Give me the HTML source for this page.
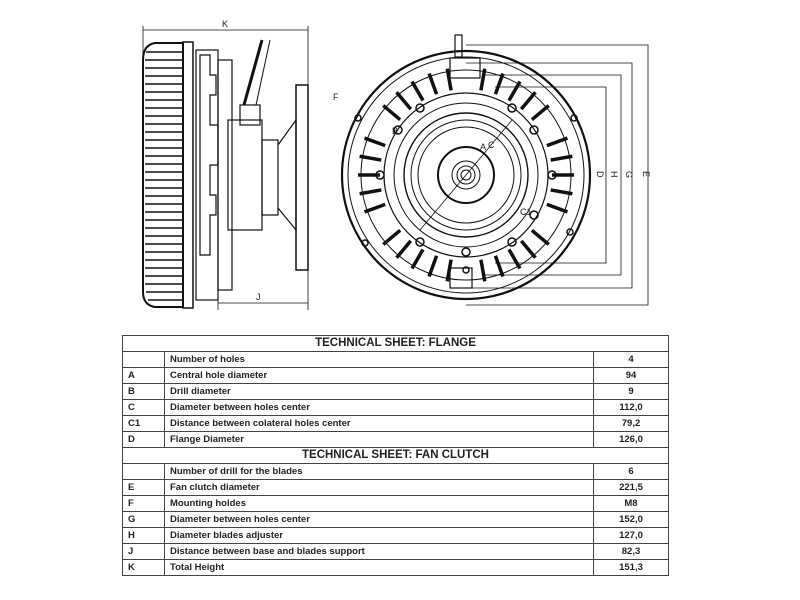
<!DOCTYPE html>
<html><head><meta charset="utf-8"><style>
html,body{margin:0;padding:0;background:#fff;width:800px;height:600px;overflow:hidden}
svg{position:absolute;left:0;top:0}
table{position:absolute;left:122px;top:335px;width:547px;border-collapse:collapse;font-family:"Liberation Sans",sans-serif;font-size:9.5px;font-weight:bold;color:#222}
td{border:1px solid #444;height:15px;padding:0 5px;line-height:15px}
td.h{text-align:center;font-size:11.5px;height:15px}
td.v{text-align:center}
</style></head><body>
<svg width="800" height="330" viewBox="0 0 800 330">
<g stroke="#111" fill="none" stroke-width="1.2">
<line x1="143" y1="30" x2="308" y2="30" stroke-width="0.8"/>
<line x1="143" y1="26" x2="143" y2="60" stroke-width="0.8"/>
<line x1="308" y1="26" x2="308" y2="310" stroke-width="0.8"/>
<line x1="218" y1="303" x2="308" y2="303" stroke-width="0.8"/>
<line x1="218" y1="290" x2="218" y2="310" stroke-width="0.8"/>
<path d="M183,43 L155,43 Q143,45 143,60 L143,292 Q143,305 155,307 L183,307 Z" stroke-width="2"/>
<g stroke-width="1.4">
<line x1="146" y1="52" x2="182" y2="52"/><line x1="145" y1="60" x2="182" y2="60"/><line x1="145" y1="68" x2="182" y2="68"/><line x1="145" y1="76" x2="182" y2="76"/><line x1="145" y1="84" x2="182" y2="84"/><line x1="145" y1="92" x2="182" y2="92"/><line x1="145" y1="100" x2="182" y2="100"/><line x1="145" y1="108" x2="182" y2="108"/><line x1="145" y1="116" x2="182" y2="116"/><line x1="145" y1="124" x2="182" y2="124"/><line x1="145" y1="132" x2="182" y2="132"/><line x1="145" y1="140" x2="182" y2="140"/><line x1="145" y1="148" x2="182" y2="148"/><line x1="145" y1="156" x2="182" y2="156"/><line x1="145" y1="164" x2="182" y2="164"/><line x1="145" y1="172" x2="182" y2="172"/><line x1="145" y1="180" x2="182" y2="180"/><line x1="145" y1="188" x2="182" y2="188"/><line x1="145" y1="196" x2="182" y2="196"/><line x1="145" y1="204" x2="182" y2="204"/><line x1="145" y1="212" x2="182" y2="212"/><line x1="145" y1="220" x2="182" y2="220"/><line x1="145" y1="228" x2="182" y2="228"/><line x1="145" y1="236" x2="182" y2="236"/><line x1="145" y1="244" x2="182" y2="244"/><line x1="145" y1="252" x2="182" y2="252"/><line x1="145" y1="260" x2="182" y2="260"/><line x1="145" y1="268" x2="182" y2="268"/><line x1="145" y1="276" x2="182" y2="276"/><line x1="145" y1="284" x2="182" y2="284"/><line x1="146" y1="292" x2="182" y2="292"/><line x1="148" y1="300" x2="182" y2="300"/>
</g>
<rect x="183" y="42" width="10" height="266" stroke-width="1.5"/>
<rect x="196" y="50" width="22" height="250"/>
<path d="M200,55 h10 v20 h6 v20 h-6 v30 h8 v40 h-8 v30 h6 v20 h-6 v40 h-10 z"/>
<rect x="218" y="60" width="14" height="230"/>
<rect x="228" y="120" width="34" height="110"/>
<rect x="240" y="105" width="20" height="20"/>
<line x1="244" y1="105" x2="262" y2="40" stroke-width="3"/>
<line x1="256" y1="105" x2="270" y2="40" stroke-width="1"/>
<rect x="262" y="140" width="16" height="75"/>
<path d="M278,145 L296,120 L296,230 L278,208"/>
<rect x="296" y="85" width="12" height="185" stroke-width="1.5"/>
<circle cx="466" cy="175" r="124" stroke-width="2.2"/>
<circle cx="466" cy="175" r="118" stroke-width="1"/>
<circle cx="466" cy="175" r="105" stroke-width="1"/>
<circle cx="466" cy="175" r="82" stroke-width="1.2"/>
<circle cx="466" cy="175" r="72" stroke-width="1"/>
<circle cx="466" cy="175" r="62" stroke-width="1.4"/>
<circle cx="466" cy="175" r="55" stroke-width="1"/>
<circle cx="466" cy="175" r="48" stroke-width="1"/>
<circle cx="466" cy="175" r="28" stroke-width="2"/>
<circle cx="466" cy="175" r="14" stroke-width="1"/>
<circle cx="466" cy="175" r="9" stroke-width="1"/>
<circle cx="466" cy="175" r="5" stroke-width="1"/>
<g stroke-width="3.5">
<path d="M466,175 m0,-108 v22" transform="rotate(10 466 175)"/>
<path d="M466,175 m0,-108 v22" transform="rotate(20 466 175)"/>
<path d="M466,175 m0,-108 v22" transform="rotate(30 466 175)"/>
<path d="M466,175 m0,-108 v22" transform="rotate(40 466 175)"/>
<path d="M466,175 m0,-108 v22" transform="rotate(50 466 175)"/>
<path d="M466,175 m0,-108 v22" transform="rotate(70 466 175)"/>
<path d="M466,175 m0,-108 v22" transform="rotate(80 466 175)"/>
<path d="M466,175 m0,-108 v22" transform="rotate(90 466 175)"/>
<path d="M466,175 m0,-108 v22" transform="rotate(100 466 175)"/>
<path d="M466,175 m0,-108 v22" transform="rotate(110 466 175)"/>
<path d="M466,175 m0,-108 v22" transform="rotate(130 466 175)"/>
<path d="M466,175 m0,-108 v22" transform="rotate(140 466 175)"/>
<path d="M466,175 m0,-108 v22" transform="rotate(150 466 175)"/>
<path d="M466,175 m0,-108 v22" transform="rotate(160 466 175)"/>
<path d="M466,175 m0,-108 v22" transform="rotate(170 466 175)"/>
<path d="M466,175 m0,-108 v22" transform="rotate(190 466 175)"/>
<path d="M466,175 m0,-108 v22" transform="rotate(200 466 175)"/>
<path d="M466,175 m0,-108 v22" transform="rotate(210 466 175)"/>
<path d="M466,175 m0,-108 v22" transform="rotate(220 466 175)"/>
<path d="M466,175 m0,-108 v22" transform="rotate(230 466 175)"/>
<path d="M466,175 m0,-108 v22" transform="rotate(250 466 175)"/>
<path d="M466,175 m0,-108 v22" transform="rotate(260 466 175)"/>
<path d="M466,175 m0,-108 v22" transform="rotate(270 466 175)"/>
<path d="M466,175 m0,-108 v22" transform="rotate(280 466 175)"/>
<path d="M466,175 m0,-108 v22" transform="rotate(290 466 175)"/>
<path d="M466,175 m0,-108 v22" transform="rotate(310 466 175)"/>
<path d="M466,175 m0,-108 v22" transform="rotate(320 466 175)"/>
<path d="M466,175 m0,-108 v22" transform="rotate(330 466 175)"/>
<path d="M466,175 m0,-108 v22" transform="rotate(340 466 175)"/>
<path d="M466,175 m0,-108 v22" transform="rotate(350 466 175)"/>
</g>
<g stroke-width="1.5">
<circle cx="420" cy="108" r="4"/><circle cx="512" cy="108" r="4"/><circle cx="380" cy="175" r="4"/><circle cx="552" cy="175" r="4"/>
<circle cx="420" cy="242" r="4"/><circle cx="512" cy="242" r="4"/><circle cx="466" cy="252" r="4"/>
<circle cx="398" cy="130" r="4"/><circle cx="534" cy="130" r="4"/><circle cx="534" cy="215" r="4"/>
<circle cx="358" cy="118" r="3"/><circle cx="574" cy="118" r="3"/><circle cx="365" cy="243" r="3"/><circle cx="570" cy="232" r="3"/><circle cx="466" cy="270" r="3"/>
</g>
<rect x="455" y="35" width="7" height="22"/>
<rect x="450" y="58" width="30" height="20"/>
<rect x="450" y="268" width="22" height="20"/>
<line x1="420" y1="230" x2="512" y2="120" stroke-width="0.8"/>
<g stroke-width="0.8">
<path d="M466,45 H648 V305 H466"/>
<path d="M466,63 H632 V288 H466"/>
<path d="M485,75 H621 V275 H485"/>
<path d="M495,87 H606 V263 H495"/>
</g>
</g>
<g font-family="Liberation Sans,sans-serif" font-size="9" fill="#222">
<text x="222" y="27">K</text><text x="256" y="300">J</text>
<text x="597" y="179" transform="rotate(90 601 175)">D</text>
<text x="611" y="179" transform="rotate(90 615 175)">H</text>
<text x="626" y="179" transform="rotate(90 630 175)">G</text>
<text x="643" y="179" transform="rotate(90 647 175)">E</text>
<text x="480" y="150">A</text><text x="488" y="148">C</text><text x="392" y="134">B</text><text x="520" y="215">C1</text><text x="333" y="100">F</text>
</g>
</svg>
<table>
<tr><td class="h" colspan="3">TECHNICAL SHEET: FLANGE</td></tr>
<tr><td style="width:31px"></td><td>Number of holes</td><td class="v" style="width:64px">4</td></tr>
<tr><td>A</td><td>Central hole diameter</td><td class="v">94</td></tr>
<tr><td>B</td><td>Drill diameter</td><td class="v">9</td></tr>
<tr><td>C</td><td>Diameter between holes center</td><td class="v">112,0</td></tr>
<tr><td>C1</td><td>Distance between colateral holes center</td><td class="v">79,2</td></tr>
<tr><td>D</td><td>Flange Diameter</td><td class="v">126,0</td></tr>
<tr><td class="h" colspan="3">TECHNICAL SHEET: FAN CLUTCH</td></tr>
<tr><td></td><td>Number of drill for the blades</td><td class="v">6</td></tr>
<tr><td>E</td><td>Fan clutch diameter</td><td class="v">221,5</td></tr>
<tr><td>F</td><td>Mounting holdes</td><td class="v">M8</td></tr>
<tr><td>G</td><td>Diameter between holes center</td><td class="v">152,0</td></tr>
<tr><td>H</td><td>Diameter blades adjuster</td><td class="v">127,0</td></tr>
<tr><td>J</td><td>Distance between base and blades support</td><td class="v">82,3</td></tr>
<tr><td>K</td><td>Total Height</td><td class="v">151,3</td></tr>
</table>
</body></html>
